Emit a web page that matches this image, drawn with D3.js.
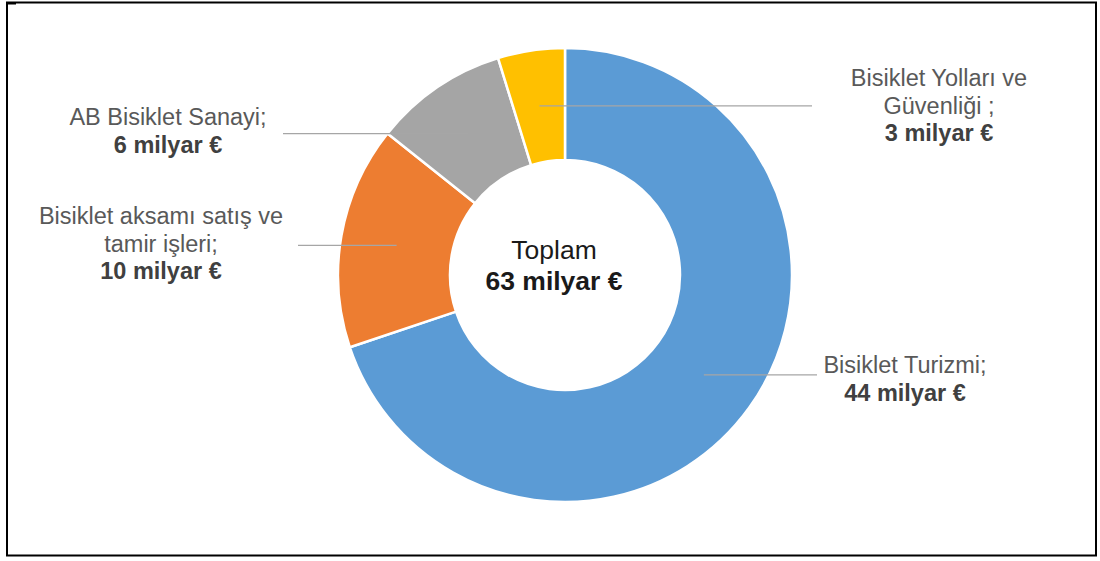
<!DOCTYPE html>
<html>
<head>
<meta charset="utf-8">
<script src="https://cdn.jsdelivr.net/npm/d3@7"></script>
<style>
  html, body { margin: 0; padding: 0; background: #fff; }
  svg { display: block; }
</style>
</head>
<body>
<svg id="chart" width="1100" height="561"></svg>
<script>
// Data
const categories = ["Bisiklet Turizmi", "Bisiklet aksamı satış ve tamir işleri", "AB Bisiklet Sanayi", "Bisiklet Yolları ve Güvenliği"];
const values = [44, 10, 6, 3];
const valueLabels = ["44 milyar €", "10 milyar €", "6 milyar €", "3 milyar €"];
const nameLines = [["Bisiklet Turizmi;"], ["Bisiklet aksamı satış ve", "tamir işleri;"], ["AB Bisiklet Sanayi;"], ["Bisiklet Yolları ve", "Güvenliği ;"]];
const colors = ["#5B9BD5", "#ED7D31", "#A5A5A5", "#FFC000"];
const totalLabel = ["Toplam", "63 milyar €"];

// Layout
const W = 1100, H = 561;
const cx = 565, cy = 275, outerR = 227, innerR = 115;
// label placement: [leader end x, text center x, first line y]
const labelLayout = [
  { lineX: 817, textX: 905, y: 365 },
  { lineX: 298, textX: 161, y: 216 },
  { lineX: 283, textX: 168, y: 117 },
  { lineX: 812, textX: 939, y: 78 }
];
const lineH = 27.5;

const svg = d3.select("#chart");

// frame
svg.append("rect").attr("x", 7).attr("y", 2.5).attr("width", 1089).attr("height", 553)
  .attr("fill", "none").attr("stroke", "#000").attr("stroke-width", 2);
svg.append("rect").attr("x", 6).attr("y", 2).attr("width", 10).attr("height", 2.5).attr("fill", "#000");

const g = svg.append("g").attr("transform", `translate(${cx},${cy})`);

const pie = d3.pie().sort(null).value(d => d);
const arcs = pie(values);
const arc = d3.arc().innerRadius(innerR).outerRadius(outerR);
const midArc = d3.arc().innerRadius((innerR + outerR) / 2).outerRadius((innerR + outerR) / 2);

g.selectAll("path.slice").data(arcs).join("path")
  .attr("class", "slice")
  .attr("d", arc)
  .attr("fill", (d, i) => colors[i])
  .attr("stroke", "#fff")
  .attr("stroke-width", 2.5)
  .attr("stroke-linejoin", "round");

// leader lines
arcs.forEach((d, i) => {
  const [px, py] = midArc.centroid(d);
  g.append("line")
    .attr("x1", px).attr("y1", py)
    .attr("x2", labelLayout[i].lineX - cx).attr("y2", py)
    .attr("stroke", "#A6A6A6").attr("stroke-width", 1.3);
});

// labels
arcs.forEach((d, i) => {
  const L = labelLayout[i];
  const t = svg.append("text")
    .attr("text-anchor", "middle")
    .attr("font-family", "'Liberation Sans', Arial, sans-serif")
    .attr("font-size", 23.5);
  const lines = nameLines[i];
  lines.forEach((s, k) => {
    t.append("tspan").attr("x", L.textX).attr("y", L.y + k * lineH)
      .attr("dominant-baseline", "central")
      .attr("fill", "#595959").text(s);
  });
  t.append("tspan").attr("x", L.textX).attr("y", L.y + lines.length * lineH)
    .attr("dominant-baseline", "central")
    .attr("fill", "#404040").attr("font-weight", "bold").text(valueLabels[i]);
});

// center
const ct = svg.append("text").attr("text-anchor", "middle")
  .attr("font-family", "'Liberation Sans', Arial, sans-serif")
  .attr("font-size", 26.5).attr("fill", "#1a1a1a");
ct.append("tspan").attr("x", 554).attr("y", 250).attr("dominant-baseline", "central").text(totalLabel[0]);
ct.append("tspan").attr("x", 554).attr("y", 281).attr("dominant-baseline", "central")
  .attr("font-weight", "bold").text(totalLabel[1]);
</script>
</body>
</html>
